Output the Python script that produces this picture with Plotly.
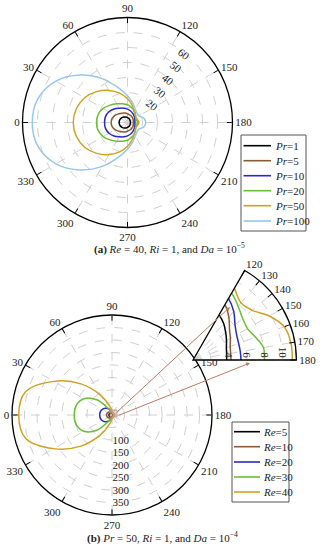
import plotly.graph_objects as go

# ---------------- data: panel (a) ----------------
theta_a = [0, 15, 30, 45, 60, 75, 90, 105, 120, 135, 150, 165, 180,
           195, 210, 225, 240, 255, 270, 285, 300, 315, 330, 345, 360]
pr_names = ["1", "5", "10", "20", "50", "100"]
r_pr1 = [5.6, 5.5, 5.2, 4.8, 4.3, 3.8, 3.3, 2.9, 2.6, 2.3, 2.1, 2.0, 2.0,
         2.0, 2.1, 2.3, 2.6, 2.9, 3.3, 3.8, 4.3, 4.8, 5.2, 5.5, 5.6]
r_pr5 = [10.9, 10.6, 9.6, 8.2, 7.2, 6.5, 5.8, 5.3, 5.0, 4.6, 4.3, 4.0, 3.8,
         4.0, 4.3, 4.6, 5.0, 5.3, 5.8, 6.5, 7.2, 8.2, 9.6, 10.6, 10.9]
r_pr10 = [15.3, 15.2, 14.3, 12.7, 11.0, 9.9, 8.9, 7.95, 7.0, 6.2, 5.6, 5.1, 4.9,
          5.1, 5.6, 6.2, 7.0, 7.95, 8.9, 9.9, 11.0, 12.7, 14.3, 15.2, 15.3]
r_pr20 = [20.7, 20.3, 18.75, 16.4, 14.4, 12.9, 11.8, 10.4, 8.9, 7.5, 6.2, 6.3, 6.6,
          6.3, 6.2, 7.5, 8.9, 10.4, 11.8, 12.9, 14.4, 16.4, 18.75, 20.3, 20.7]
r_pr50 = [36.2, 35.3, 33.0, 29.1, 24.7, 20.3, 15.8, 12.0, 8.8, 7.4, 6.5, 7.0, 7.6,
          7.0, 6.5, 7.4, 8.8, 12.0, 15.8, 20.3, 24.7, 29.1, 33.0, 35.3, 36.2]
r_pr100 = [63.5, 61.8, 55.1, 44.7, 33.8, 24.0, 17.9, 13.4, 10.3, 8.9, 8.9, 11.2, 12.2,
           11.2, 8.9, 8.9, 10.3, 13.4, 17.9, 24.0, 33.8, 44.7, 55.1, 61.8, 63.5]

# ---------------- data: panel (b) ----------------
theta_b = [0, 15, 30, 45, 60, 75, 90, 105, 120, 130, 140, 150, 160, 170, 180,
           190, 200, 210, 220, 230, 240, 255, 270, 285, 300, 315, 330, 345, 360]
re_names = ["5", "10", "20", "30", "40"]
r_re5 = [12, 11.9, 11.4, 10.6, 9.6, 8.5, 7.5, 6.6, 5.8, 5.3, 4.75, 4.3, 3.95, 3.8, 3.74,
         3.8, 3.95, 4.3, 4.75, 5.3, 5.8, 6.6, 7.5, 8.5, 9.6, 10.6, 11.4, 11.9, 12]
r_re10 = [22, 21, 19.5, 17, 14.5, 12, 9.5, 8, 7.1, 6.2, 5.3, 4.8, 4.4, 4.25, 4.22,
          4.25, 4.4, 4.8, 5.3, 6.2, 7.1, 8, 9.5, 12, 14.5, 17, 19.5, 21, 22]
r_re20 = [49, 48.5, 45, 38, 29, 17, 11, 9, 7.9, 7.05, 6.1, 5.6, 5.4, 5.34, 5.33,
          5.34, 5.4, 5.6, 6.1, 7.05, 7.9, 9, 11, 17, 29, 38, 45, 48.5, 49]
r_re30 = [151, 148, 130, 86, 30, 14, 11, 9.5, 8.6, 7.8, 7.2, 7.0, 7.4, 7.95, 7.95,
          7.95, 7.4, 7.0, 7.2, 7.8, 8.6, 9.5, 11, 14, 30, 86, 130, 148, 151]
r_re40 = [373, 358, 269, 176, 92, 38, 17, 11.5, 9.2, 8.3, 8.6, 9.8, 10.8, 11.05, 11.05,
          11.05, 10.8, 9.8, 8.6, 8.3, 9.2, 11.5, 17, 38, 92, 176, 269, 358, 373]

pr_series = [r_pr1, r_pr5, r_pr10, r_pr20, r_pr50, r_pr100]
re_series = [r_re5, r_re10, r_re20, r_re30, r_re40]

ang_ticks = [0, 30, 60, 90, 120, 150, 180, 210, 240, 270, 300, 330]
rad_ticks_a = [10, 20, 30, 40, 50, 60]
rad_text_a = ["", "20", "30", "40", "50", "60"]
rad_ticks_b = [50, 100, 150, 200, 250, 300, 350]
rad_text_b = ["", "100", "150", "200", "250", "300", "350"]
inset_ang_labels = [120, 130, 140, 150, 160, 170, 180]
inset_rad_ticks = [2, 4, 6, 8, 10]
inset_rad_text = ["", "4", "6", "8", "10"]

colors_a = ["#000000", "#8B5A34", "#2A2AC0", "#6CBE34", "#CFA223", "#97C6EE"]
colors_b = ["#000000", "#8B5A34", "#2A2AC0", "#6CBE34", "#CFA223"]

FONT = "Liberation Serif"
W, H = 323, 550
TXT = "#222"

# the same inset angles written in each 360-degree turn, so that whichever
# turn plotly uses for the clockwise sector keeps its labels
inset_tickvals = ([a - 360 for a in inset_ang_labels] + inset_ang_labels
                  + [a + 360 for a in inset_ang_labels])
inset_ticktext = [str(a) for a in inset_ang_labels] * 3

fig = go.Figure()

for name, r, c in zip(pr_names, pr_series, colors_a):
    fig.add_trace(go.Scatterpolar(r=r, theta=theta_a, mode="lines",
                                  line=dict(color=c, width=1.5, shape="spline"),
                                  name="<i>Pr</i>=" + name, subplot="polar",
                                  showlegend=False))

for name, r, c in zip(re_names, re_series, colors_b):
    fig.add_trace(go.Scatterpolar(r=r, theta=theta_b, mode="lines",
                                  line=dict(color=c, width=1.5, shape="spline"),
                                  name="<i>Re</i>=" + name, subplot="polar2",
                                  showlegend=False))

for name, r, c in zip(re_names, re_series, colors_b):
    fig.add_trace(go.Scatterpolar(r=r, theta=theta_b, mode="lines",
                                  line=dict(color=c, width=1.5, shape="spline"),
                                  name="<i>Re</i>=" + name, subplot="polar3",
                                  showlegend=False))


def dom(cx, cy, R):
    return dict(x=[(cx - R) / W, (cx + R) / W], y=[1 - (cy + R) / H, 1 - (cy - R) / H])


def px(x):
    return x / W


def py(y):
    return 1 - y / H


tickfont = dict(family=FONT, size=11, color=TXT)
grid = dict(gridcolor="#d0d0d0", griddash="dash", gridwidth=0.8)

ang_common = dict(rotation=180, direction="clockwise", ticks="inside", ticklen=5,
                  tickcolor="black", showline=True, linecolor="black", linewidth=1.3,
                  tickfont=tickfont, **grid)

fig.update_layout(
    width=W, height=H, margin=dict(l=0, r=0, t=0, b=0, autoexpand=False),
    paper_bgcolor="white", plot_bgcolor="white",
    font=dict(family=FONT, size=11, color=TXT),
    showlegend=False,
    polar=dict(
        domain=dom(127.5, 122.5, 105), bgcolor="white",
        angularaxis=dict(tickvals=ang_ticks, **ang_common),
        radialaxis=dict(range=[0, 70], tickvals=rad_ticks_a, ticktext=rad_text_a,
                        angle=58, tickangle=96, showline=False, ticks="",
                        tickfont=tickfont, **grid),
    ),
    polar2=dict(
        domain=dom(112, 415, 100), bgcolor="white",
        angularaxis=dict(tickvals=ang_ticks, **ang_common),
        radialaxis=dict(range=[0, 400], tickvals=rad_ticks_b, ticktext=rad_text_b,
                        angle=-90, tickangle=-90, side="counterclockwise",
                        showline=False, ticks="", tickfont=tickfont, **grid),
    ),
    polar3=dict(
        domain=dict(x=[193 / W, 296.4 / W], y=[1 - 360 / H, 1 - 270.5 / H]),
        sector=[0, 60], bgcolor="white",
        angularaxis=dict(tickmode="array", tickvals=inset_tickvals,
                         ticktext=inset_ticktext, **ang_common),
        radialaxis=dict(range=[0, 11.5], tickvals=inset_rad_ticks, ticktext=inset_rad_text,
                        angle=0, tickangle=90, side="counterclockwise",
                        showline=False, ticks="", tickfont=tickfont, **grid),
    ),
)

# ---- legends (drawn as boxes, line samples and labels) ----
leg_a_box = (241, 306, 135, 231)
leg_a_rows = [145.7, 160.7, 175.7, 190.7, 205.7, 221.0]
leg_b_box = (232, 289, 422, 502)
leg_b_rows = [431.7, 446.7, 462.0, 477.0, 492.0]


def draw_legend(box, rows, labels, cols, x0, x1, xt):
    fig.add_shape(type="rect", xref="paper", yref="paper",
                  x0=px(box[0]), x1=px(box[1]), y0=py(box[3]), y1=py(box[2]),
                  line=dict(color="#555", width=1), fillcolor="white", layer="above")
    for yy, lab, c in zip(rows, labels, cols):
        fig.add_shape(type="line", xref="paper", yref="paper",
                      x0=px(x0), x1=px(x1), y0=py(yy), y1=py(yy),
                      line=dict(color=c, width=1.6), layer="above")
        fig.add_annotation(x=px(xt), y=py(yy), xref="paper", yref="paper",
                           text=lab, showarrow=False, xanchor="left", yanchor="middle",
                           font=dict(family=FONT, size=11, color=TXT))


draw_legend(leg_a_box, leg_a_rows, ["<i>Pr</i>=" + n for n in pr_names], colors_a,
            243.5, 271, 272.5)
draw_legend(leg_b_box, leg_b_rows, ["<i>Re</i>=" + n for n in re_names], colors_b,
            234, 260, 260.5)

# zoom indicator square
fig.add_shape(type="rect", xref="paper", yref="paper",
              x0=px(110), x1=px(117), y0=py(417), y1=py(410),
              fillcolor="rgba(215,160,160,0.45)", line=dict(color="#C09090", width=0.8))

arrow_col = "#C07A62"
fig.add_annotation(x=px(230), y=py(307), xref="paper", yref="paper",
                   ax=-114, ay=106, showarrow=True, arrowhead=2, arrowsize=0.8,
                   arrowwidth=1, arrowcolor=arrow_col, text="", standoff=0)
fig.add_annotation(x=px(250), y=py(363), xref="paper", yref="paper",
                   ax=-133, ay=53, showarrow=True, arrowhead=2, arrowsize=0.8,
                   arrowwidth=1, arrowcolor=arrow_col, text="", standoff=0)

fig.add_annotation(x=px(169), y=py(248), xref="paper", yref="paper",
                   xanchor="center", yanchor="middle",
                   text="<b>(a)</b> <i>Re</i> = 40, <i>Ri</i> = 1, and <i>Da</i> = 10<sup>−5</sup>",
                   showarrow=False, font=dict(family=FONT, size=11, color=TXT))
fig.add_annotation(x=px(162), y=py(537), xref="paper", yref="paper",
                   xanchor="center", yanchor="middle",
                   text="<b>(b)</b> <i>Pr</i> = 50, <i>Ri</i> = 1, and <i>Da</i> = 10<sup>−4</sup>",
                   showarrow=False, font=dict(family=FONT, size=11, color=TXT))

fig.write_html("out.html", config={"displayModeBar": False},
               post_script="document.body.style.margin='0';")
